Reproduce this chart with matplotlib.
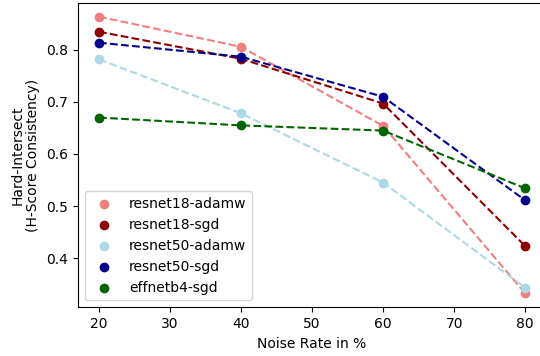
import matplotlib
matplotlib.use("Agg")
import matplotlib.pyplot as plt

noise = [20, 40, 60, 80]
labels = ["resnet18-adamw", "resnet18-sgd", "resnet50-adamw", "resnet50-sgd", "effnetb4-sgd"]
colors = ["lightcoral", "darkred", "lightblue", "darkblue", "darkgreen"]
resnet18_adamw = [0.864, 0.806, 0.654, 0.332]
resnet18_sgd = [0.835, 0.783, 0.697, 0.423]
resnet50_adamw = [0.782, 0.678, 0.545, 0.343]
resnet50_sgd = [0.814, 0.787, 0.710, 0.511]
effnetb4_sgd = [0.670, 0.655, 0.645, 0.534]
series = [resnet18_adamw, resnet18_sgd, resnet50_adamw, resnet50_sgd, effnetb4_sgd]

fig, ax = plt.subplots(figsize=(5.4, 3.56), dpi=100)
for lab, c, ys in zip(labels, colors, series):
    ax.plot(noise, ys, "--", color=c)
    ax.scatter(noise, ys, color=c, label=lab, zorder=3)

ax.set_xlabel("Noise Rate in %")
ax.set_ylabel("Hard-Intersect\n(H-Score Consistency)")
ax.set_xticks([20, 30, 40, 50, 60, 70, 80])
ax.set_yticks([0.4, 0.5, 0.6, 0.7, 0.8])
ax.legend(loc="lower left", fontsize=10)
fig.subplots_adjust(left=0.144, right=1.012, bottom=0.137, top=0.992)
fig.savefig("out.png", dpi=100)
